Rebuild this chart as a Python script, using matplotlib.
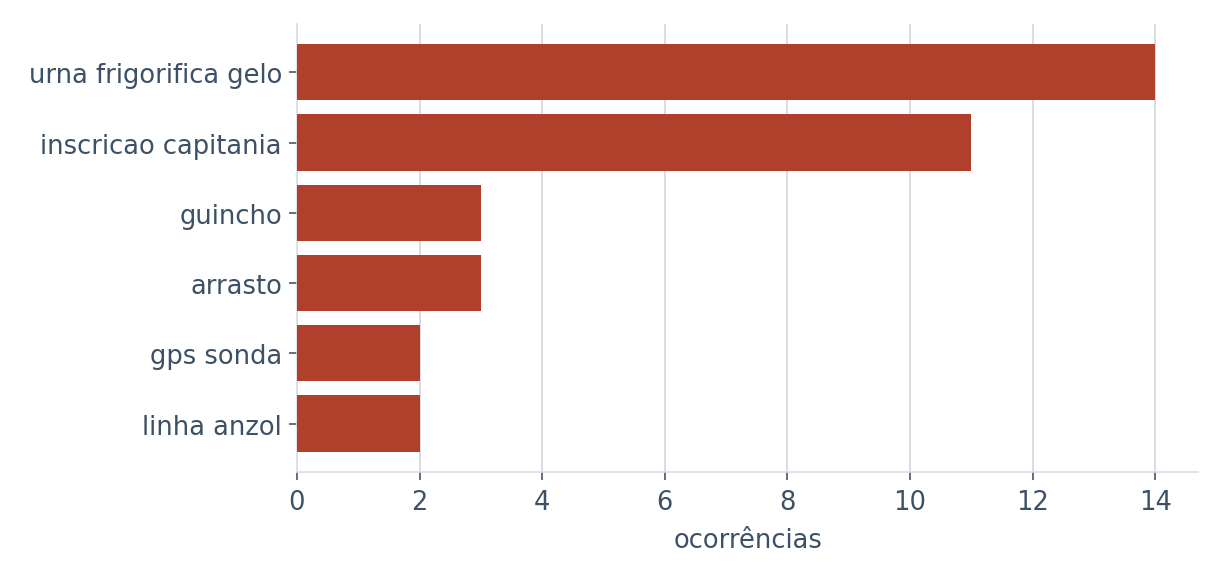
import matplotlib
matplotlib.use("Agg")
import matplotlib.pyplot as plt

plt.rcParams['font.family'] = ['DejaVu Sans']
plt.rcParams['font.sans-serif'] = ['DejaVu Sans']

categorias = ["urna frigorifica gelo", "inscricao capitania", "guincho",
              "arrasto", "gps sonda", "linha anzol"]
ocorrencias = [14, 11, 3, 3, 2, 2]

txt = "#3d5166"
bar_color = "#b0402c"
grid_color = "#d9dde2"
fs = 12.9

fig, ax = plt.subplots(figsize=(8.5, 4.0138), dpi=144)
fig.subplots_adjust(left=0.2426, right=0.979, top=0.957, bottom=0.1817)

ax.barh(categorias, ocorrencias, height=0.8, color=bar_color, zorder=3)
ax.invert_yaxis()
ax.set_xlim(0, 14.7)
ax.set_xticks(range(0, 15, 2))

ax.grid(axis="x", color=grid_color, linewidth=1, zorder=0)
ax.set_axisbelow(True)
for s in ("top", "right"):
    ax.spines[s].set_visible(False)
for s in ("left", "bottom"):
    ax.spines[s].set_color(grid_color)

ax.tick_params(axis="both", colors=txt, length=4, width=0.8)
ax.tick_params(axis="x", pad=4.5)
for lab in ax.get_xticklabels() + ax.get_yticklabels():
    lab.set_family('DejaVu Sans')
    lab.set_fontsize(fs)
ax.set_xlabel("ocorrências", color=txt, fontsize=fs, family='DejaVu Sans', labelpad=6)

fig.savefig("out.png", dpi=144)
